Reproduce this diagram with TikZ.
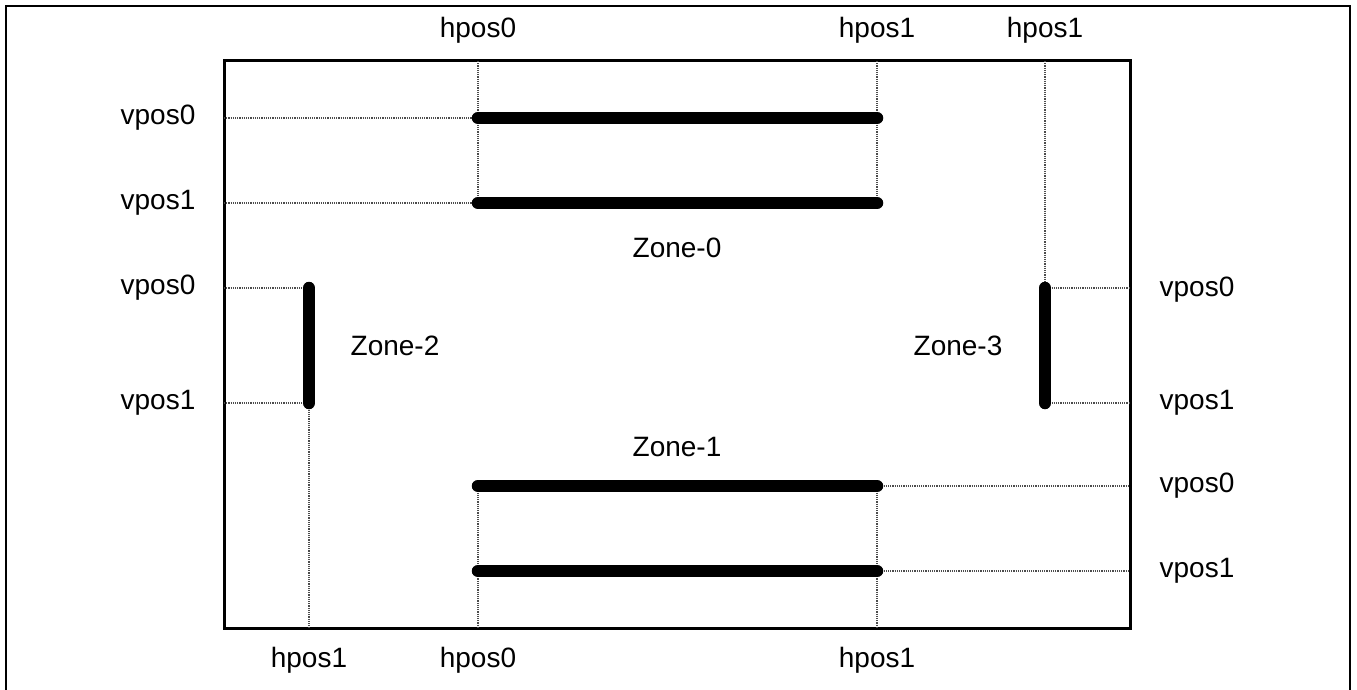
\documentclass[tikz,border=0pt]{standalone}
\usepackage{fontspec}
\setmainfont{Liberation Sans}
\begin{document}
\begin{tikzpicture}[x=1pt,y=-1pt,
  frame/.style={line width=3pt,black},
  outer/.style={line width=2.5pt,black},
  guide/.style={densely dotted,line width=1.2pt,black!70},
  bar/.style={line width=12.5pt,line cap=round,black},
  lbl/.style={font=\fontsize{28}{33}\selectfont,inner sep=0pt}]
\useasboundingbox (0,0) rectangle (1357,690);
% outer frame (bottom edge outside picture)
\draw[outer] (6,695) -- (6,6) -- (1350,6) -- (1350,695);
% inner box
\draw[frame] (224,61) rectangle (1130,628);
% coordinates
\coordinate (tA) at (478,61);  \coordinate (tB) at (877,61); \coordinate (tC) at (1045,61);
\coordinate (bA) at (309,628); \coordinate (bB) at (478,628); \coordinate (bC) at (877,628);
\coordinate (l1) at (224,118); \coordinate (l2) at (224,203); \coordinate (l3) at (224,288); \coordinate (l4) at (224,403);
\coordinate (r1) at (1130,288); \coordinate (r2) at (1130,403); \coordinate (r3) at (1130,486); \coordinate (r4) at (1130,571);
% zone-0
\coordinate (z0a) at (478,118); \coordinate (z0b) at (877,118);
\coordinate (z0c) at (478,203); \coordinate (z0d) at (877,203);
% zone-1
\coordinate (z1a) at (478,486); \coordinate (z1b) at (877,486);
\coordinate (z1c) at (478,571); \coordinate (z1d) at (877,571);
% zone-2
\coordinate (z2a) at (309,288); \coordinate (z2b) at (309,403);
% zone-3
\coordinate (z3a) at (1045,288); \coordinate (z3b) at (1045,403);
% guides
\draw[guide] (l1) -- (z0a); \draw[guide] (l2) -- (z0c);
\draw[guide] (tA) -- (z0c); \draw[guide] (tB) -- (z0d);
\draw[guide] (l3) -- (z2a); \draw[guide] (l4) -- (z2b); \draw[guide] (z2b) -- (bA);
\draw[guide] (z3a) -- (r1); \draw[guide] (z3b) -- (r2); \draw[guide] (tC) -- (z3a);
\draw[guide] (z1b) -- (r3); \draw[guide] (z1d) -- (r4);
\draw[guide] (z1a) -- (bB); \draw[guide] (z1b) -- (bC);
% bars
\draw[bar] (z0a) -- (z0b); \draw[bar] (z0c) -- (z0d);
\draw[bar] (z1a) -- (z1b); \draw[bar] (z1c) -- (z1d);
\draw[bar] (z2a) -- (z2b); \draw[bar] (z3a) -- (z3b);
% labels
\node[lbl] (th0) at (478,30) {hpos0};
\node[lbl] (th1) at (877,30) {hpos1};
\node[lbl] (th2) at (1045,30) {hpos1};
\node[lbl] (bh0) at (309,660) {hpos1};
\node[lbl] (bh1) at (478,660) {hpos0};
\node[lbl] (bh2) at (877,660) {hpos1};
\node[lbl] (lv0) at (158,118) {vpos0};
\node[lbl] (lv1) at (158,203) {vpos1};
\node[lbl] (lv2) at (158,288) {vpos0};
\node[lbl] (lv3) at (158,403) {vpos1};
\node[lbl] (rv0) at (1197,290) {vpos0};
\node[lbl] (rv1) at (1197,403) {vpos1};
\node[lbl] (rv2) at (1197,486) {vpos0};
\node[lbl] (rv3) at (1197,571) {vpos1};
\node[lbl] (zn0) at (677,248) {Zone-0};
\node[lbl] (zn1) at (677,447) {Zone-1};
\node[lbl] (zn2) at (395,346) {Zone-2};
\node[lbl] (zn3) at (958,346) {Zone-3};
\end{tikzpicture}
\end{document}
